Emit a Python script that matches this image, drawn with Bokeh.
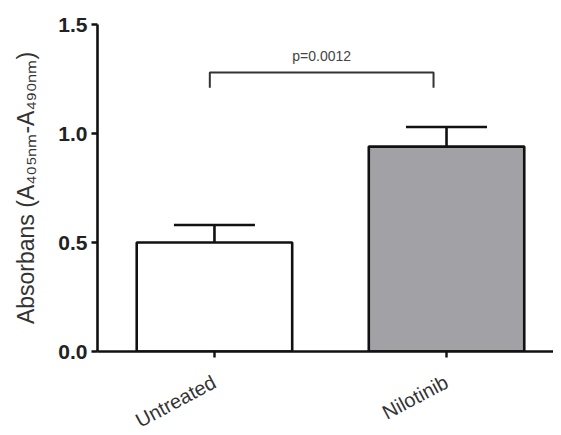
from bokeh.plotting import figure
from bokeh.models import Range1d, FixedTicker, Whisker, TeeHead, ColumnDataSource
from bokeh.core.properties import value
from bokeh.embed import file_html
from bokeh.resources import INLINE
import math

# ---- data ----
categories = ["Untreated", "Nilotinib"]
means = [0.50, 0.94]
sem = [0.08, 0.09]
bar_colors = ["#ffffff", "#a2a2a6"]
p_label = "p=0.0012"
bracket_level = 1.28
bracket_drop = 1.21
y_ticks = [0.0, 0.5, 1.0, 1.5]

xs = list(range(len(categories)))
src = ColumnDataSource(dict(
    x=xs, top=means, color=bar_colors,
    upper=[m + s for m, s in zip(means, sem)],
))

p = figure(frame_width=456, frame_height=327, output_backend="svg", toolbar_location=None,
           x_range=Range1d(-0.504, 1.461), y_range=Range1d(0, 1.5),
           min_border_left=97, min_border_right=0, min_border_top=24, min_border_bottom=0)
p.outline_line_color = None
p.xgrid.visible = False
p.ygrid.visible = False
p.background_fill_color = "white"
p.border_fill_color = "white"

p.vbar(x="x", top="top", width=0.67, fill_color="color", line_color="#111111",
       line_width=2.6, source=src)

w = Whisker(base="x", upper="upper", lower="top", source=src,
            line_color="#111111", line_width=2.6,
            upper_head=TeeHead(size=81, line_color="#111111", line_width=2.6),
            lower_head=None)
p.add_layout(w)

# significance bracket
bx0 = xs[0] - 0.02
bx1 = xs[1] - 0.056
p.line(x=[bx0, bx0, bx1, bx1], y=[bracket_drop, bracket_level, bracket_level, bracket_drop],
       line_color="#333333", line_width=2)
p.text(x=[(bx0 + bx1) / 2], y=[1.355], text=[p_label], text_align="center",
       text_baseline="middle", text_font=value("Liberation Sans"),
       text_font_size="14px", text_color="#444444")

# axes
for ax in (p.xaxis[0], p.yaxis[0]):
    ax.axis_line_width = 2.6
    ax.axis_line_color = "#111111"
    ax.major_tick_line_width = 2.4
    ax.major_tick_line_color = "#111111"
    ax.major_tick_in = 0
    ax.major_tick_out = 6
    ax.minor_tick_line_color = None

p.yaxis.ticker = FixedTicker(ticks=y_ticks)
p.yaxis.major_label_overrides = {t: f"{t:.1f}" for t in y_ticks}
p.yaxis.major_label_text_font = "Liberation Sans"
p.yaxis.major_label_text_font_style = "bold"
p.yaxis.major_label_text_font_size = "21px"
p.yaxis.major_label_text_color = "#222222"
p.yaxis.major_label_standoff = 4
p.yaxis.axis_label = "Absorbans (A\u2084\u2080\u2085\u2099\u2098-A\u2084\u2089\u2080\u2099\u2098)"
p.yaxis.axis_label_text_font = "Liberation Sans"
p.yaxis.axis_label_text_font_style = "normal"
p.yaxis.axis_label_text_font_size = "23px"
p.yaxis.axis_label_text_color = "#333333"
p.yaxis.axis_label_standoff = 16

p.xaxis.ticker = FixedTicker(ticks=xs)
p.xaxis.major_label_overrides = {i: c for i, c in zip(xs, categories)}
p.xaxis.major_label_orientation = math.radians(28)
p.xaxis.major_label_text_font = "Liberation Sans"
p.xaxis.major_label_text_font_size = "20px"
p.xaxis.major_label_text_color = "#333333"
p.xaxis.major_label_standoff = 23

open("out.html", "w").write(file_html(p, INLINE))
